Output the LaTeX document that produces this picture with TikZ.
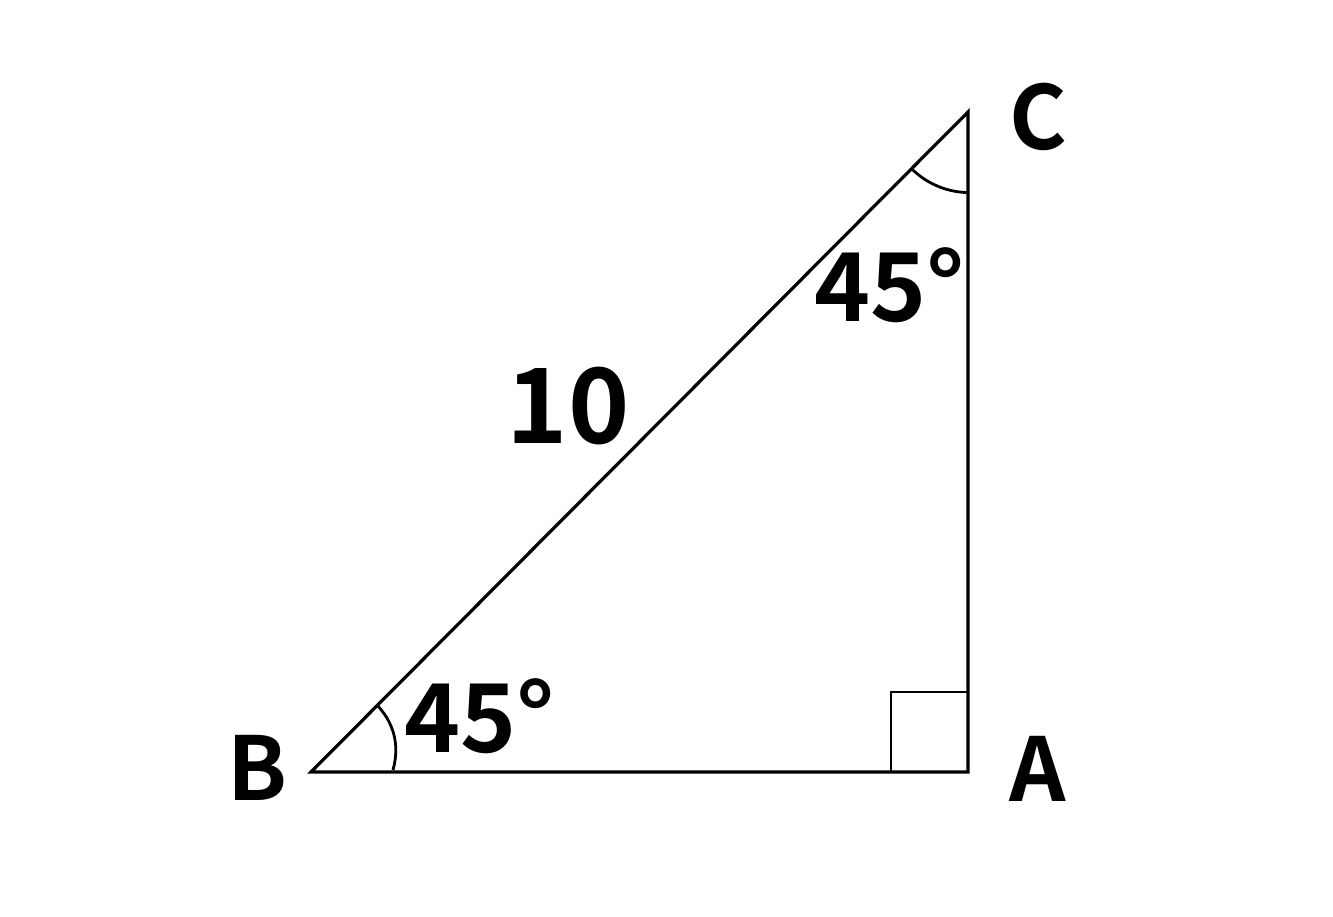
\documentclass[tikz,border=0pt]{standalone}
\usepackage{fontspec}
\usetikzlibrary{calc}
\setmainfont{Noto Sans CJK JP}[BoldFont={* Bold}]
\begin{document}
\begin{tikzpicture}[x=1pt,y=-1pt,
  edge/.style={line width=3.2pt,line join=miter},
  thin edge/.style={line width=2.8pt},
  lbl/.style={inner sep=0pt,anchor=base,font=\fontsize{88}{88}\selectfont\bfseries},
  num/.style={inner sep=0pt,anchor=base,font=\fontsize{95}{95}\selectfont\bfseries}]
\useasboundingbox (0,0) rectangle (1333,917);
\fill[white] (0,0) rectangle (1333,917);
\coordinate (B) at (311,772);
\coordinate (A) at (968,772);
\coordinate (C) at (968,112);
\draw[edge] (B) -- (A) -- (C) -- cycle;
\draw[thin edge] (891,772) -- (891,692) -- (968,692);
% angle arcs
\coordinate (b1) at (378,706);
\coordinate (b2) at (393,770);
\draw[thin edge] (b1) .. controls (396,726) and (399,748) .. (b2);
\draw[thin edge] ($(C)+(135:80)$) arc[start angle=135,end angle=92,radius=82];
\node[lbl] (lC) at (1038,150) {C};
\node[lbl] (lB) at (257,800) {B};
\node[lbl] (lA) at (1038,801) {A};
\node[inner sep=0pt,anchor=base,font=\fontsize{104}{104}\selectfont\bfseries] (l10) at (568,443) {10};
\node[num] (aC) at (890,322) {45°};
\node[num] (aB) at (480,752) {45°};
\end{tikzpicture}
\end{document}
